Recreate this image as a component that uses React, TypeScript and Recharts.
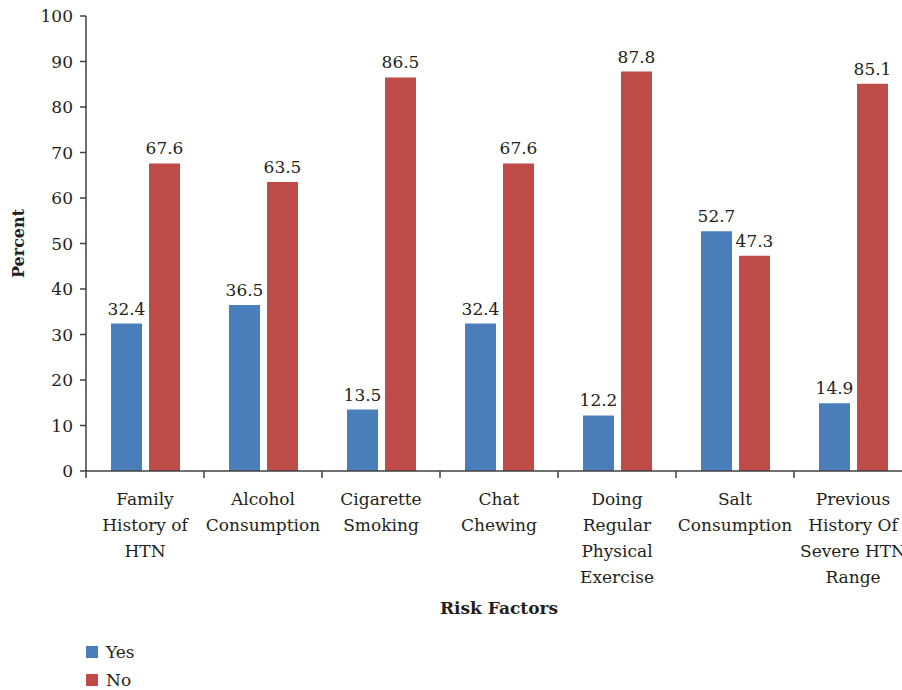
import { BarChart, Bar, XAxis, YAxis, Legend, LabelList } from 'recharts';

const categories = [
  'Family\nHistory of\nHTN',
  'Alcohol\nConsumption',
  'Cigarette\nSmoking',
  'Chat\nChewing',
  'Doing\nRegular\nPhysical\nExercise',
  'Salt\nConsumption',
  'Previous\nHistory Of\nSevere HTN\nRange',
];
const yesValues = [32.4, 36.5, 13.5, 32.4, 12.2, 52.7, 14.9];
const noValues = [67.6, 63.5, 86.5, 67.6, 87.8, 47.3, 85.1];
const yTicks = [0, 10, 20, 30, 40, 50, 60, 70, 80, 90, 100];

const data = categories.map((name, i) => ({ name, yes: yesValues[i], no: noValues[i] }));

const FONT = '"DejaVu Serif", serif';
const TEXT = '#231F20';
const AXIS = '#404040';
const BLUE = '#4A7EBB';
const RED = '#BE4B48';
const FS = 17;

const CategoryTick = (props: any) => {
  const { x, y, payload } = props;
  const lines = String(payload.value).split('\n');
  const half = payload.offset ?? 0;
  return (
    <g>
      <line x1={x - half} x2={x - half} y1={y} y2={y + 7} stroke={AXIS} strokeWidth={1.5} />
      <text x={x} y={y + 34} textAnchor="middle" style={{ fontFamily: FONT }} fontSize={FS} fill={TEXT}>
        {lines.map((l, i) => (
          <tspan key={i} x={x} dy={i === 0 ? 0 : 26}>
            {l}
          </tspan>
        ))}
      </text>
    </g>
  );
};

const LegendBox = () => (
  <div style={{ height: 60, paddingTop: 8, boxSizing: 'border-box', fontFamily: FONT, fontSize: FS, color: TEXT }}>
    {[
      { label: 'Yes', color: BLUE },
      { label: 'No', color: RED },
    ].map((it) => (
      <div key={it.label} style={{ display: 'flex', alignItems: 'center', height: 28 }}>
        <span style={{ width: 12, height: 12, background: it.color, display: 'inline-block', marginRight: 8 }} />
        <span>{it.label}</span>
      </div>
    ))}
  </div>
);

export default function App() {
  return (
    <div style={{ position: 'fixed', left: 0, top: 0, width: 902, height: 690, overflow: 'hidden', background: '#fff', fontFamily: FONT }}>
      <BarChart
        width={920}
        height={690}
        data={data}
        margin={{ top: 16, right: 8, left: 0, bottom: 0 }}
        barGap={7}
        barCategoryGap="21%"
        style={{ fontFamily: FONT }}
      >
        <XAxis
          dataKey="name"
          interval={0}
          height={159}
          tickSize={0}
          tickMargin={0}
          tick={<CategoryTick />}
          axisLine={{ stroke: AXIS, strokeWidth: 1.5 }}
          label={{
            content: (p: any) => {
              const vb = p.viewBox;
              return (
                <text x={vb.x + vb.width / 2} y={vb.y + 143} textAnchor="middle" style={{ fontFamily: FONT }} fontSize={FS} fontWeight="bold" fill={TEXT}>
                  Risk Factors
                </text>
              );
            },
          }}
        />
        <YAxis
          width={86}
          domain={[0, 100]}
          ticks={yTicks}
          interval={0}
          tickSize={6}
          tickMargin={7}
          axisLine={{ stroke: AXIS, strokeWidth: 1.5 }}
          tickLine={{ stroke: AXIS, strokeWidth: 1.5 }}
          tick={{ fontSize: FS, fill: TEXT, style: { fontFamily: FONT } }}
          label={{
            content: (p: any) => {
              const vb = p.viewBox;
              const cx = vb.x + 18;
              const cy = vb.y + vb.height / 2;
              return (
                <text x={cx} y={cy} transform={`rotate(-90 ${cx} ${cy})`} textAnchor="middle" dominantBaseline="central" style={{ fontFamily: FONT }} fontSize={16} fontWeight="bold" fill={TEXT}>
                  Percent
                </text>
              );
            },
          }}
        />
        <Legend verticalAlign="bottom" align="left" content={<LegendBox />} wrapperStyle={{ left: 86, bottom: 0, width: 200 }} />
        <Bar dataKey="yes" name="Yes" fill={BLUE} barSize={31} isAnimationActive={false}>
          <LabelList dataKey="yes" position="top" offset={9} style={{ fontFamily: FONT }} fontSize={FS} fill={TEXT} />
        </Bar>
        <Bar dataKey="no" name="No" fill={RED} barSize={31} isAnimationActive={false}>
          <LabelList dataKey="no" position="top" offset={9} style={{ fontFamily: FONT }} fontSize={FS} fill={TEXT} />
        </Bar>
      </BarChart>
    </div>
  );
}
